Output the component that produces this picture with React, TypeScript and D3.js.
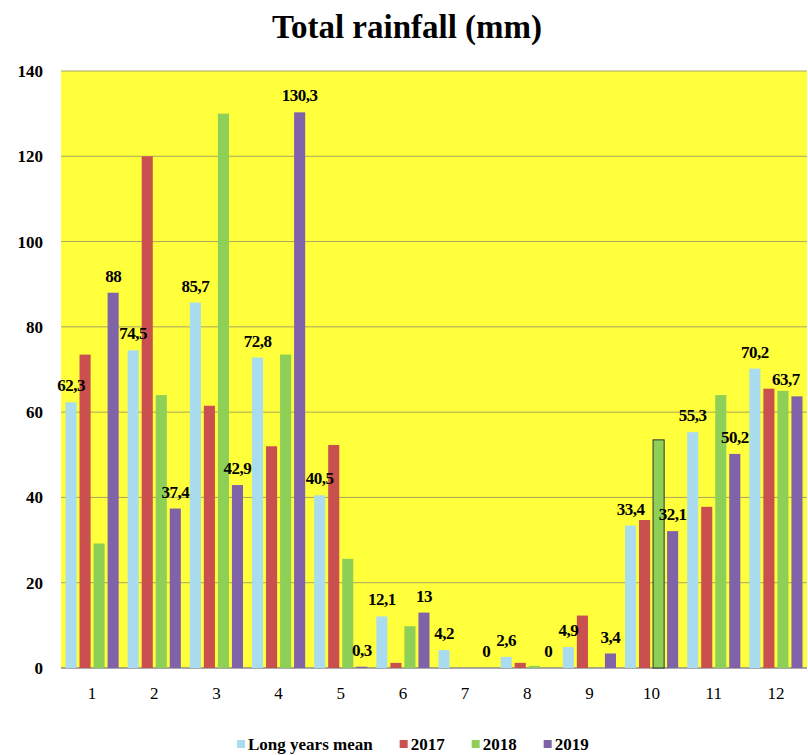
import React, { useEffect, useRef } from "react";
import * as d3 from "d3";

const months = ["1", "2", "3", "4", "5", "6", "7", "8", "9", "10", "11", "12"];
const seriesNames = ["Long years mean", "2017", "2018", "2019"];
const longYearsMean = [62.3, 74.5, 85.7, 72.8, 40.5, 12.1, 4.2, 2.6, 4.9, 33.4, 55.3, 70.2];
const rain2017 = [73.5, 120, 61.5, 52, 52.3, 1.2, 0, 1.2, 12.3, 34.7, 37.8, 65.5];
const rain2018 = [29.2, 64, 130, 73.5, 25.6, 9.8, 0, 0.5, 0, 53.5, 64, 65];
const rain2019 = [88, 37.4, 42.9, 130.3, 0.3, 13, 0, 0, 3.4, 32.1, 50.2, 63.7];
const yTicks = [0, 20, 40, 60, 80, 100, 120, 140];
const colors = ["#a9dcef", "#c9504e", "#8ed057", "#8062a8"];
const labelledSeries = [0, 3];

const App: React.FC = () => {
  const ref = useRef<SVGSVGElement>(null);

  useEffect(() => {
    const width = 808;
    const height = 755;
    const margin = { top: 71, right: 1, bottom: 87, left: 61 };
    const font = "'Liberation Serif', 'Times New Roman', serif";

    const svg = d3.select(ref.current);
    svg.selectAll("*").remove();

    const values = [longYearsMean, rain2017, rain2018, rain2019];

    // Scales
    const x0 = d3
      .scaleBand<string>()
      .domain(months)
      .range([margin.left, width - margin.right])
      .padding(0);

    const x1 = d3
      .scaleBand<number>()
      .domain([0, 1, 2, 3])
      .range([0, x0.bandwidth()])
      .paddingInner(0.21)
      .paddingOuter(0.32);

    const y = d3
      .scaleLinear()
      .domain([0, 140])
      .range([height - margin.bottom, margin.top]);

    // Title
    svg
      .append("text")
      .attr("x", 407)
      .attr("y", 38)
      .attr("text-anchor", "middle")
      .attr("font-family", font)
      .attr("font-weight", "bold")
      .attr("font-size", 33)
      .text("Total rainfall (mm)");

    // Plot background
    svg
      .append("rect")
      .attr("x", margin.left)
      .attr("y", margin.top)
      .attr("width", width - margin.left - margin.right)
      .attr("height", y(0) - margin.top)
      .attr("fill", "#ffff3c");

    // Gridlines
    svg
      .append("g")
      .selectAll("line")
      .data(yTicks)
      .join("line")
      .attr("x1", margin.left)
      .attr("x2", width - margin.right)
      .attr("y1", (d) => y(d))
      .attr("y2", (d) => y(d))
      .attr("stroke", (d) => (d === 0 ? "#8c8c8c" : "#a8a660"))
      .attr("stroke-width", (d) => (d === 0 ? 1.5 : 1));

    // Y axis labels
    svg
      .append("g")
      .selectAll("text")
      .data(yTicks)
      .join("text")
      .attr("x", 43)
      .attr("y", (d) => y(d) + 6)
      .attr("text-anchor", "end")
      .attr("font-family", font)
      .attr("font-weight", "bold")
      .attr("font-size", 17)
      .text((d) => d);

    // X axis labels
    svg
      .append("g")
      .selectAll("text")
      .data(months)
      .join("text")
      .attr("x", (d) => (x0(d) ?? 0) + x0.bandwidth() / 2)
      .attr("y", y(0) + 31)
      .attr("text-anchor", "middle")
      .attr("font-family", font)
      .attr("font-size", 17)
      .text((d) => d);

    // Bars
    const groups = svg
      .append("g")
      .selectAll("g")
      .data(months)
      .join("g")
      .attr("transform", (d) => `translate(${x0(d)},0)`);

    groups
      .selectAll("rect")
      .data((_, i) => values.map((s, k) => ({ k, i, v: s[i] })))
      .join("rect")
      .attr("x", (d) => x1(d.k) ?? 0)
      .attr("y", (d) => y(d.v))
      .attr("width", x1.bandwidth())
      .attr("height", (d) => y(0) - y(d.v))
      .attr("fill", (d) => colors[d.k])
      .attr("stroke", (d) => (d.k === 2 && d.i === 9 ? "#333" : "none"))
      .attr("stroke-width", 1);

    // Data labels (long years mean and 2019 only)
    const fmt = (v: number) => String(v).replace(".", ",");
    groups
      .selectAll("text")
      .data((_, i) => labelledSeries.map((k) => ({ k, i, v: values[k][i] })))
      .join("text")
      .attr("x", (d) => {
        const cx = (x0(months[d.i]) ?? 0) + (x1(d.k) ?? 0) + x1.bandwidth() / 2;
        return Math.min(cx, width - 22) - (x0(months[d.i]) ?? 0);
      })
      .attr("y", (d) => y(d.v) - 11)
      .attr("text-anchor", "middle")
      .attr("font-family", font)
      .attr("font-weight", "bold")
      .attr("font-size", 17)
      .attr("letter-spacing", -0.5)
      .text((d) => fmt(d.v));

    // Legend
    const legend = svg.append("g");
    let lx = 237;
    seriesNames.forEach((name, k) => {
      legend
        .append("rect")
        .attr("x", lx)
        .attr("y", 740)
        .attr("width", 8)
        .attr("height", 8)
        .attr("fill", colors[k]);
      const t = legend
        .append("text")
        .attr("x", lx + 11)
        .attr("y", 750)
        .attr("font-family", font)
        .attr("font-weight", "bold")
        .attr("font-size", 17)
        .text(name);
      const w = (t.node() as SVGTextElement).getComputedTextLength();
      lx += 11 + w + 27;
    });
  }, []);

  return (
    <svg
      ref={ref}
      width={808}
      height={755}
      style={{ position: "absolute", left: 0, top: 0, background: "#fff" }}
    />
  );
};

export default App;
